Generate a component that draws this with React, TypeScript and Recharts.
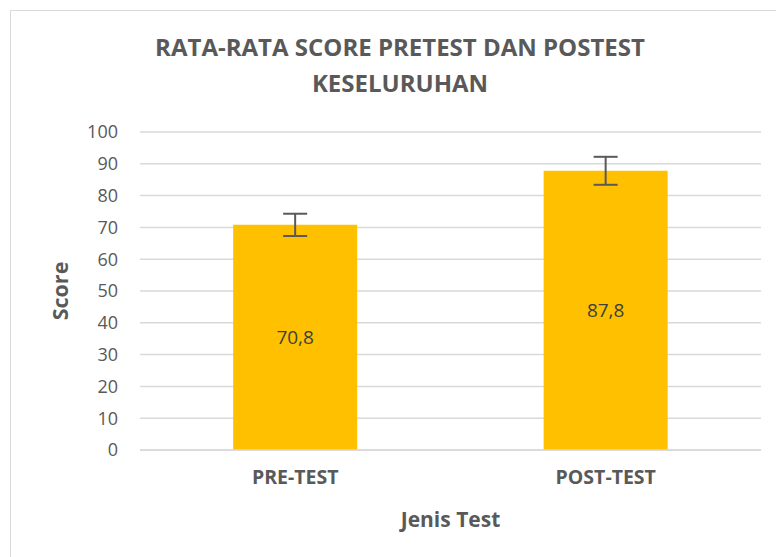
import React from "react";
import {
  BarChart,
  Bar,
  XAxis,
  YAxis,
  CartesianGrid,
  ErrorBar,
  LabelList,
} from "recharts";

const categories = ["PRE-TEST", "POST-TEST"];
const meanScores = [70.8, 87.8];
const errorMargins = [3.5, 4.4];
const yTicks = [0, 10, 20, 30, 40, 50, 60, 70, 80, 90, 100];

const data = categories.map((name, i) => ({
  name,
  score: meanScores[i],
  err: errorMargins[i],
}));

const FONT = "'Open Sans', sans-serif";
const GREY = "#595959";

export default function App() {
  return (
    <div
      style={{
        position: "absolute",
        left: 0,
        top: 0,
        width: 776,
        height: 557,
        overflow: "hidden",
        background: "#fff",
        fontFamily: FONT,
      }}
    >
      <div
        style={{
          position: "absolute",
          left: 10,
          top: 10,
          width: 900,
          height: 700,
          border: "1px solid #d9d9d9",
        }}
      />
      <div
        style={{
          position: "absolute",
          left: 0,
          top: 29,
          width: 800,
          textAlign: "center",
          fontWeight: 700,
          fontSize: 24,
          lineHeight: "36px",
          color: GREY,
        }}
      >
        RATA-RATA SCORE PRETEST DAN POSTEST
        <br />
        KESELURUHAN
      </div>
      <div style={{ position: "absolute", left: 0, top: 0 }}>
        <BarChart
          width={776}
          height={557}
          data={data}
          margin={{ top: 132, right: 15, left: 0, bottom: 0 }}
          barCategoryGap="30%"
        >
          <CartesianGrid
            vertical={false}
            stroke="#d9d9d9"
            strokeWidth={1.5}
          />
          <XAxis
            dataKey="name"
            height={107}
            tickSize={0}
            tickMargin={20}
            axisLine={{ stroke: "#d9d9d9", strokeWidth: 1.5 }}
            tick={{
              fill: GREY,
              fontSize: 19.5,
              fontWeight: 700,
              fontFamily: FONT,
            }}
            label={{
              value: "Jenis Test",
              position: "insideBottom",
              offset: 30,
              fill: GREY,
              fontSize: 21,
              fontWeight: 700,
              fontFamily: FONT,
            }}
          />
          <YAxis
            width={140}
            domain={[0, 100]}
            ticks={yTicks}
            interval={0}
            tickSize={0}
            tickMargin={22}
            axisLine={false}
            tick={{ fill: GREY, fontSize: 18, fontFamily: FONT }}
            label={{
              value: "Score",
              angle: -90,
              position: "insideLeft",
              offset: 60,
              textAnchor: "middle",
              fill: GREY,
              fontSize: 21.5,
              fontWeight: 700,
              fontFamily: FONT,
            }}
          />
          <Bar dataKey="score" fill="#FFC000" isAnimationActive={false}>
            <ErrorBar
              dataKey="err"
              width={12}
              stroke="#595959"
              strokeWidth={2}
            />
            <LabelList
              dataKey="score"
              position="center"
              formatter={(v: number) => String(v).replace(".", ",")}
              fill="#404040"
              fontSize={19}
              fontFamily={FONT}
            />
          </Bar>
        </BarChart>
      </div>
    </div>
  );
}
